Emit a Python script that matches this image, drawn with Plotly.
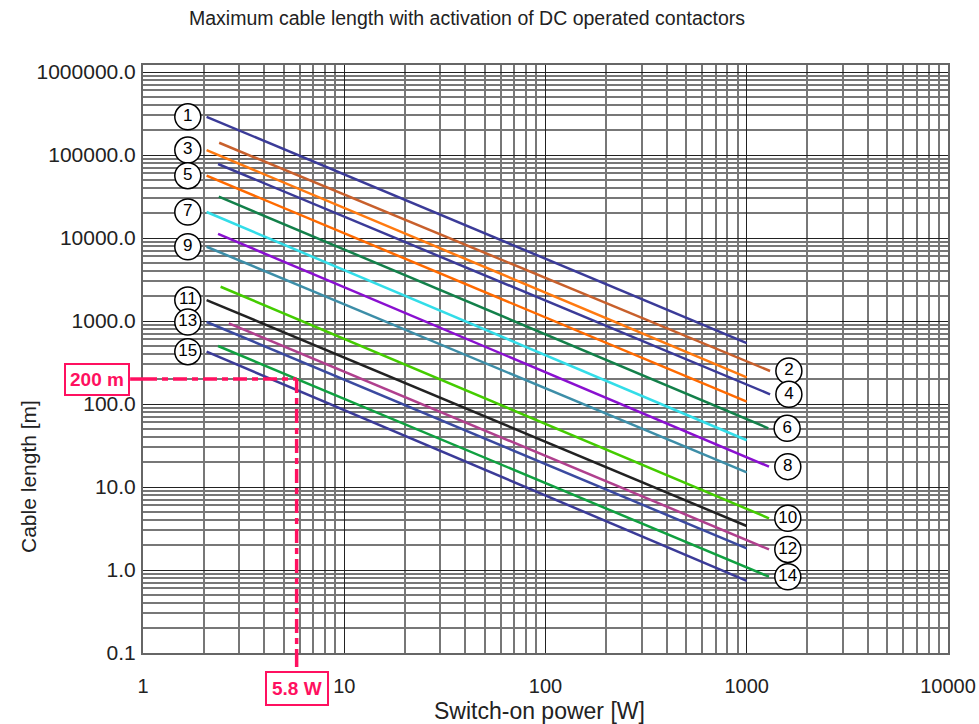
import math
import plotly.graph_objects as go

# === 線條資料 ===
line_ids = [1, 2, 3, 4, 5, 6, 7, 8, 9, 10, 11, 12, 13, 14, 15]
p_start = [2.07, 2.39, 2.07, 2.36, 2.07, 2.38, 2.07, 2.36, 2.07, 2.43, 2.07, 2.67, 2.07, 2.36, 2.07]
l_start = [289000, 140600, 114900, 78000, 56400, 31500, 20600, 11200, 7850, 2590, 1790, 938, 973, 500, 427]
p_end = [1000, 1306, 1000, 1306, 1000, 1280, 1000, 1290, 1000, 1290, 1000, 1290, 1000, 1290, 1000]
l_end = [543, 250, 210, 131, 107, 51, 36.6, 17.6, 15.0, 4.2, 3.39, 1.77, 1.82, 0.83, 0.74]
line_colors = ["#3b3b98", "#c8602c", "#ff7a10", "#3b3b98", "#ff6a00", "#13804a", "#33dde8", "#8a10d0",
               "#3d8ea8", "#44cc00", "#222222", "#b0408e", "#3b4aa0", "#10a040", "#3b3b98"]

x_ticks = [1, 10, 100, 1000, 10000]
x_ticktext = ["1", "10", "100", "1000", "10000"]
y_ticks = [0.1, 1, 10, 100, 1000, 10000, 100000, 1000000]
y_ticktext = ["0.1", "1.0", "10.0", "100.0", "1000.0", "10000.0", "100000.0", "1000000.0"]

example_power = 5.8
example_len = 200

pink = "#ff1060"
label_shift = 1.24
fnt = "Liberation Sans, Arial, sans-serif"

fig = go.Figure()

for i, n in enumerate(line_ids):
    fig.add_trace(go.Scatter(
        x=[p_start[i], p_end[i]], y=[l_start[i], l_end[i]],
        mode="lines", line=dict(color=line_colors[i], width=2.5),
        hoverinfo="skip"
    ))

# === 圓圈編號 ===
lab_x, lab_y, lab_t = [], [], []
for i, n in enumerate(line_ids):
    if n % 2 == 1:
        lab_x.append(p_start[i] / label_shift)
        lab_y.append(l_start[i])
    else:
        lab_x.append(p_end[i] * label_shift)
        lab_y.append(l_end[i])
    lab_t.append(str(n))

fig.add_trace(go.Scatter(
    x=lab_x, y=lab_y, mode="markers+text", text=lab_t,
    textposition="middle center",
    textfont=dict(size=17, color="black", family=fnt),
    marker=dict(symbol="circle", size=26, color="white", line=dict(color="black", width=1.5)),
    cliponaxis=False, hoverinfo="skip"
))

# === 範例 200 m / 5.8 W ===
dash = "14px,5px,6px,5px"
pl = dict(color=pink, width=3.5, dash=dash)
fig.add_shape(type="line", xref="x", yref="y", x0=1, x1=example_power, y0=example_len, y1=example_len, line=pl)
fig.add_shape(type="line", xref="paper", yref="y", x0=-0.016, x1=0, y0=example_len, y1=example_len, line=pl)
fig.add_shape(type="line", xref="x", yref="y", x0=example_power, x1=example_power, y0=example_len, y1=0.1, line=pl)
fig.add_shape(type="line", xref="x", yref="paper", x0=example_power, x1=example_power, y0=0, y1=-0.026, line=pl)

fig.add_annotation(x=-0.016, xref="paper", xanchor="right", y=math.log10(example_len), yref="y",
                   text="<b>%d m</b>" % example_len, showarrow=False,
                   font=dict(size=19, color=pink, family=fnt),
                   bordercolor=pink, borderwidth=2, borderpad=4, bgcolor="white")
fig.add_annotation(x=math.log10(example_power), xref="x", y=-0.061, yref="paper", yanchor="middle",
                   text="<b>%.1f W</b>" % example_power, showarrow=False,
                   font=dict(size=19, color=pink, family=fnt),
                   bordercolor=pink, borderwidth=2, borderpad=5, bgcolor="white")

# 軸標題
fig.add_annotation(x=0.493, xref="paper", y=-0.0986, yref="paper", xanchor="center", yanchor="middle",
                   text="Switch-on power [W]", showarrow=False, font=dict(size=23, color="#222", family=fnt))
fig.add_annotation(x=-0.1429, xref="paper", y=0.301, yref="paper", xanchor="center", yanchor="middle",
                   text="Cable length [m]", textangle=-90, showarrow=False,
                   font=dict(size=21, color="#222", family=fnt))

minor_x = [m * 10 ** d for d in range(0, 4) for m in range(2, 10)]
minor_y = [m * 10 ** d for d in range(-1, 6) for m in range(2, 10)]

fig.update_xaxes(
    type="log", range=[0, 4], automargin=False,
    tickvals=x_ticks, ticktext=x_ticktext, ticklabelstandoff=14,
    tickfont=dict(size=20, color="#222"),
    showgrid=True, gridcolor="#222", gridwidth=1.2,
    minor=dict(tickvals=minor_x, showgrid=True, gridcolor="#777", gridwidth=2),
    showline=True, linecolor="#666", linewidth=2, mirror=True,
    zeroline=False
)
fig.update_yaxes(
    type="log", range=[-1, 6.085], automargin=False,
    tickvals=y_ticks, ticktext=y_ticktext, ticklabelstandoff=1,
    tickfont=dict(size=21, color="#222"),
    showgrid=True, gridcolor="#222", gridwidth=1.2,
    minor=dict(tickvals=minor_y, showgrid=True, gridcolor="#777", gridwidth=2),
    showline=True, linecolor="#666", linewidth=2, mirror=True,
    zeroline=False
)

fig.update_layout(
    width=979, height=724,
    margin=dict(l=143, r=31, t=65, b=71),
    paper_bgcolor="white", plot_bgcolor="white",
    font=dict(family=fnt, color="#222"),
    title=dict(text="Maximum cable length with activation of DC operated contactors",
               x=0.4025, xref="paper", xanchor="center", y=0.975, yanchor="middle",
               font=dict(size=19.5, color="#222")),
    showlegend=False
)

# 去掉頁面 body 預設邊距
fig.write_html("out.html", config={"displayModeBar": False},
               post_script="document.body.style.margin='0';")
